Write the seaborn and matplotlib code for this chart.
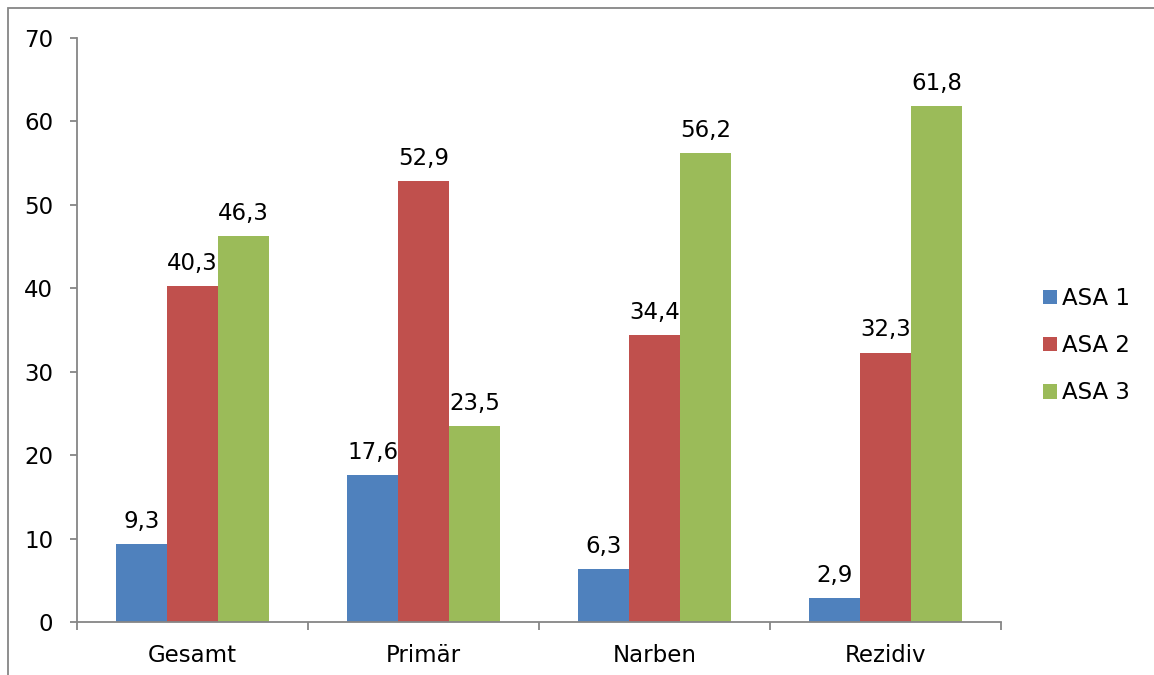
import numpy as np
import pandas as pd
import matplotlib
matplotlib.use('Agg')
import matplotlib.pyplot as plt
import seaborn as sns
from matplotlib.patches import Rectangle

# Daten
categories = ['Gesamt', 'Primär', 'Narben', 'Rezidiv']
series = ['ASA 1', 'ASA 2', 'ASA 3']
asa1 = [9.3, 17.6, 6.3, 2.9]
asa2 = [40.3, 52.9, 34.4, 32.3]
asa3 = [46.3, 23.5, 56.2, 61.8]
colors = ['#4F81BD', '#C0504D', '#9BBB59']

df = pd.DataFrame({
    'Kategorie': categories * 3,
    'ASA': [s for s in series for _ in categories],
    'Wert': asa1 + asa2 + asa3,
})

sns.set_style('white')
plt.rcParams['font.family'] = ['DejaVu Sans']
plt.rcParams['text.color'] = 'black'
plt.rcParams['xtick.color'] = 'black'
plt.rcParams['ytick.color'] = 'black'
grey = '#868686'
fs = 16.5

fig = plt.figure(figsize=(11.54, 6.75), dpi=100)
ax = fig.add_axes([0.0667, 0.0785, 0.8007, 0.8652])

sns.barplot(data=df, x='Kategorie', y='Wert', hue='ASA', palette=colors,
            saturation=1, width=0.662, linewidth=0, ax=ax, legend=True)

# Werte über den Balken
for cont in ax.containers:
    ax.bar_label(cont, labels=[f'{v:.1f}'.replace('.', ',') for v in cont.datavalues],
                 padding=8, fontsize=fs, color='black')

ax.set_xlim(-0.5, 3.5)
ax.set_ylim(0, 70)
ax.set_yticks(np.arange(0, 71, 10))
ax.set_xlabel('')
ax.set_ylabel('')

for s in ['top', 'right']:
    ax.spines[s].set_visible(False)
for s in ['left', 'bottom']:
    ax.spines[s].set_color(grey)
    ax.spines[s].set_linewidth(1.3)

ax.tick_params(axis='y', direction='out', length=5, color=grey, width=1.3,
               labelsize=fs, pad=12, left=True, labelcolor='black')
ax.tick_params(axis='x', which='major', length=0, labelsize=fs, pad=16,
               labelcolor='black')
ax.set_xticks(np.arange(-0.5, 3.6, 1), minor=True)
ax.tick_params(axis='x', which='minor', direction='out', length=6, color=grey,
               width=1.3, bottom=True)

leg = ax.legend(loc='center left', bbox_to_anchor=(1.023, 0.473), frameon=False,
                fontsize=fs, handlelength=0.6, handleheight=0.6,
                handletextpad=0.25, labelspacing=1.05)
for t in leg.get_texts():
    t.set_color('black')

# Rahmen
fig.patches.append(Rectangle((8 / 1154, -0.5), 2, 1.5 - 8 / 675,
                             transform=fig.transFigure, fill=False,
                             edgecolor=grey, linewidth=1.3))

fig.savefig('out.png', dpi=100)
